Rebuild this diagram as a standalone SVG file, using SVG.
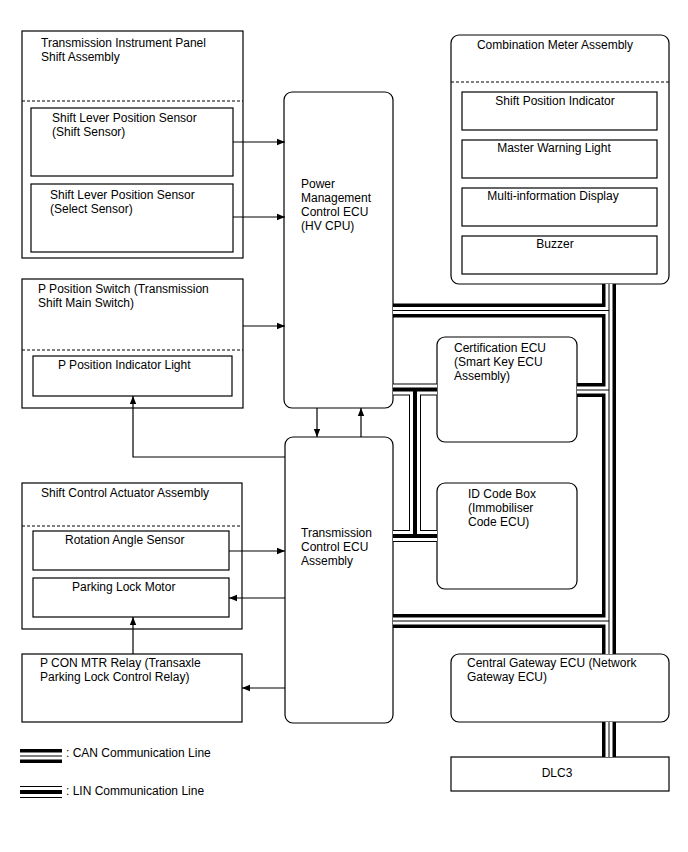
<svg xmlns="http://www.w3.org/2000/svg" width="688" height="852" viewBox="0 0 688 852">
<defs>
<style>
.box{fill:#fff;stroke:#000;stroke-width:1.2}
.dash{stroke:#000;stroke-width:1;stroke-dasharray:3,2;fill:none}
.t{font-family:"Liberation Sans",Arial,sans-serif;font-size:12px;fill:#000}
.c{text-anchor:middle}
.ln{stroke:#000;stroke-width:1.2;fill:none}
.canA{stroke:#000;stroke-width:14;fill:none}
.canB{stroke:#fff;stroke-width:7;fill:none}
.canC{stroke:#000;stroke-width:1;fill:none}
.linA{stroke:#000;stroke-width:12;fill:none}
.linB{stroke:#fff;stroke-width:10;fill:none}
.linC{stroke:#000;stroke-width:4;fill:none}
</style>
<marker id="ah" viewBox="0 0 10 10" refX="10" refY="5" markerWidth="8" markerHeight="8" markerUnits="userSpaceOnUse" orient="auto">
<path d="M0,1 L10,5 L0,9 Z" fill="#000"/>
</marker>
</defs>
<rect width="688" height="852" fill="#fff"/>

<g id="shift-assembly">
<rect class="box" x="22" y="31" width="221" height="227"/>
<line class="dash" x1="22" y1="101" x2="243" y2="101"/>
<text class="t" x="41" y="47">Transmission Instrument Panel</text>
<text class="t" x="41" y="61">Shift Assembly</text>
</g>
<g id="shift-sensor">
<rect class="box" x="31" y="108" width="202" height="68"/>
<text class="t" x="52" y="122">Shift Lever Position Sensor</text>
<text class="t" x="52" y="136">(Shift Sensor)</text>
</g>
<g id="select-sensor">
<rect class="box" x="31" y="184" width="202" height="68"/>
<text class="t" x="50" y="199">Shift Lever Position Sensor</text>
<text class="t" x="50" y="213">(Select Sensor)</text>
</g>

<g id="p-switch">
<rect class="box" x="22" y="279" width="221" height="129"/>
<line class="dash" x1="22" y1="350" x2="243" y2="350"/>
<text class="t" x="38" y="293">P Position Switch (Transmission</text>
<text class="t" x="38" y="307">Shift Main Switch)</text>
</g>
<g id="p-indicator">
<rect class="box" x="33" y="356" width="199" height="40"/>
<text class="t" x="58" y="369">P Position Indicator Light</text>
</g>

<g id="actuator">
<rect class="box" x="22" y="483" width="220" height="146"/>
<line class="dash" x1="22" y1="526" x2="242" y2="526"/>
<text class="t" x="41" y="497">Shift Control Actuator Assembly</text>
</g>
<g id="rotation-sensor">
<rect class="box" x="33" y="531" width="196" height="39"/>
<text class="t" x="65" y="544">Rotation Angle Sensor</text>
</g>
<g id="lock-motor">
<rect class="box" x="33" y="578" width="196" height="39"/>
<text class="t" x="72" y="591">Parking Lock Motor</text>
</g>

<g id="pcon-relay">
<rect class="box" x="22" y="654" width="220" height="68"/>
<text class="t" x="40" y="667">P CON MTR Relay (Transaxle</text>
<text class="t" x="40" y="681">Parking Lock Control Relay)</text>
</g>

<g id="power-ecu">
<rect class="box" x="284" y="92" width="109" height="316" rx="8"/>
<text class="t" x="301" y="188">Power</text>
<text class="t" x="301" y="202">Management</text>
<text class="t" x="301" y="216">Control ECU</text>
<text class="t" x="301" y="230">(HV CPU)</text>
</g>

<g id="trans-ecu">
<rect class="box" x="285" y="437" width="108" height="286" rx="8"/>
<text class="t" x="301" y="537">Transmission</text>
<text class="t" x="301" y="551">Control ECU</text>
<text class="t" x="301" y="565">Assembly</text>
</g>

<g id="meter">
<rect class="box" x="451" y="35" width="218" height="249" rx="8"/>
<line class="dash" x1="451" y1="82" x2="669" y2="82"/>
<text class="t c" x="555" y="49">Combination Meter Assembly</text>
</g>
<g id="shift-pos-ind">
<rect class="box" x="462" y="92" width="195" height="38"/>
<text class="t c" x="555" y="105">Shift Position Indicator</text>
</g>
<g id="master-warn">
<rect class="box" x="462" y="140" width="195" height="38"/>
<text class="t c" x="554" y="152">Master Warning Light</text>
</g>
<g id="multi-display">
<rect class="box" x="462" y="188" width="195" height="38"/>
<text class="t c" x="553" y="200">Multi-information Display</text>
</g>
<g id="buzzer">
<rect class="box" x="462" y="236" width="195" height="38"/>
<text class="t c" x="555" y="248">Buzzer</text>
</g>

<g id="cert-ecu">
<rect class="box" x="437" y="337" width="140" height="105" rx="8"/>
<text class="t" x="454" y="352">Certification ECU</text>
<text class="t" x="454" y="366">(Smart Key ECU</text>
<text class="t" x="454" y="380">Assembly)</text>
</g>

<g id="id-code-box">
<rect class="box" x="437" y="483" width="140" height="106" rx="8"/>
<text class="t" x="468" y="498">ID Code Box</text>
<text class="t" x="468" y="512">(Immobiliser</text>
<text class="t" x="468" y="526">Code ECU)</text>
</g>

<g id="gateway">
<rect class="box" x="451" y="654" width="218" height="68" rx="8"/>
<text class="t" x="467" y="667">Central Gateway ECU (Network</text>
<text class="t" x="467" y="681">Gateway ECU)</text>
</g>

<g id="dlc3">
<rect class="box" x="451" y="757" width="218" height="34"/>
<text class="t c" x="557" y="777">DLC3</text>
</g>

<g id="connectors">
<g id="can-bus">
<path class="canA" d="M609,284V654M609,722V757M393,310.5H609M577,390H609M393,621H609"/>
<path class="canB" d="M609,284V654M609,722V757M393,310.5H609M577,390H609M393,621H609"/>
<path class="canC" d="M609,284V654M609,722V757M393,310.5H609M577,390H609M393,621H609"/>
</g>
<g id="lin-bus">
<path class="linA" d="M393,389.5H437M415,389.5V536M393,536H437"/>
<path class="linB" d="M393,389.5H437M415,389.5V536M393,536H437"/>
<path class="linC" d="M393,389.5H437M415,389.5V536M393,536H437"/>
</g>
<g id="arrows">
<path class="ln" d="M233,142H285" marker-end="url(#ah)"/>
<path class="ln" d="M233,217H285" marker-end="url(#ah)"/>
<path class="ln" d="M243,326H285" marker-end="url(#ah)"/>
<path class="ln" d="M285,457H133V396" marker-end="url(#ah)"/>
<path class="ln" d="M317,408V437" marker-end="url(#ah)"/>
<path class="ln" d="M361,437V408" marker-end="url(#ah)"/>
<path class="ln" d="M229,551H285" marker-end="url(#ah)"/>
<path class="ln" d="M285,598H229" marker-end="url(#ah)"/>
<path class="ln" d="M133,654V617" marker-end="url(#ah)"/>
<path class="ln" d="M285,688H242" marker-end="url(#ah)"/>
</g>
</g>

<g id="legend">
<path class="canA" d="M20,756H62"/>
<path class="canB" d="M20,756H62"/>
<path class="canC" d="M20,756H62"/>
<text class="t" x="66" y="757">: CAN Communication Line</text>
<path class="linA" d="M20,792H62"/>
<path class="linB" d="M20,792H62"/>
<path class="linC" d="M20,792H62"/>
<text class="t" x="66" y="795">: LIN Communication Line</text>
</g>
</svg>
